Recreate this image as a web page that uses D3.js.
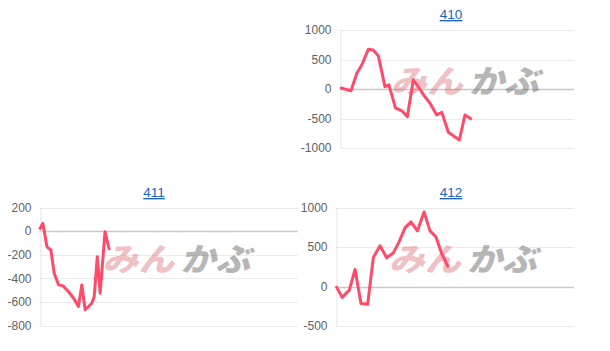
<!DOCTYPE html>
<html>
<head>
<meta charset="utf-8">
<script src="https://cdn.jsdelivr.net/npm/d3@7"></script>
<style>
  body { margin: 0; background: #fff; }
  svg { display: block; font-family: "Liberation Sans", Arial, sans-serif; }
</style>
</head>
<body>
<div id="chart"></div>
<script>
// chart titles
var titles = ["410", "411", "412"];

// x positions are % of the period shown, y is the value
var x410 = [0, 4.7, 7.2, 9.3, 12.1, 14.2, 16.4, 19.2, 20.9, 23.7, 26.4, 28.8, 31.3, 33.8, 36.1, 38.5, 41.3, 43.5, 46.3, 51, 53.4, 56.3];
var y410 = [20, -30, 266, 407, 672, 661, 560, 40, 70, -320, -370, -470, 152, 20, -120, -242, -440, -395, -734, -864, -440, -513];

var x411 = [0, 1.3, 2.9, 4.4, 5.7, 7.4, 9.1, 11.2, 13.2, 15.1, 16.4, 17.7, 20.3, 21.2, 22.4, 23.5, 25.4, 27.1];
var y411 = [14, 65, -133, -160, -357, -456, -464, -512, -568, -639, -456, -667, -611, -555, -217, -526, -6, -160];

var x412 = [0, 2.6, 5.6, 8, 10.5, 13.3, 15.7, 18.5, 21.3, 24.1, 26.5, 29, 31.5, 34.2, 37, 39.5, 42, 44.4, 47.2];
var y412 = [5, -138, -46, 216, -214, -226, 368, 515, 363, 426, 565, 742, 818, 704, 944, 704, 628, 418, 241];

var ticks410 = [-1000, -500, 0, 500, 1000];
var ticks411 = [-800, -600, -400, -200, 0, 200];
var ticks412 = [-500, 0, 500, 1000];

var width = 610, height = 351;
var svg = d3.select("#chart").append("svg")
    .attr("width", width)
    .attr("height", height);

var panels = [
    {title: titles[0], xs: x410, ys: y410, ticks: ticks410, left: 340, right: 574, top: 30, bottom: 148, titleX: 451, titleY: 19},
    {title: titles[1], xs: x411, ys: y411, ticks: ticks411, left: 39.5, right: 297.5, top: 207.5, bottom: 325.5, titleX: 154, titleY: 197},
    {title: titles[2], xs: x412, ys: y412, ticks: ticks412, left: 336, right: 574, top: 207.5, bottom: 326, titleX: 451, titleY: 197}
];

panels.forEach(function(p) {
    var g = svg.append("g");
    var x = d3.scaleLinear().domain([0, 100]).range([p.left, p.right]);
    var y = d3.scaleLinear().domain(d3.extent(p.ticks)).range([p.bottom, p.top]);

    g.append("text")
        .attr("x", p.titleX)
        .attr("y", p.titleY)
        .attr("text-anchor", "middle")
        .attr("font-size", 13.5)
        .attr("fill", "#1a63c0")
        .style("text-decoration", "underline")
        .text(p.title);

    // grid lines
    g.selectAll(".grid")
        .data(p.ticks)
        .enter().append("line")
        .attr("x1", p.left)
        .attr("x2", p.right)
        .attr("y1", function(d) { return Math.round(y(d)) + 0.5; })
        .attr("y2", function(d) { return Math.round(y(d)) + 0.5; })
        .attr("stroke", function(d) { return d == 0 ? "#c8c8c8" : "#ebebeb"; })
        .attr("stroke-width", function(d) { return d == 0 ? 1.5 : 1; });

    var yAxis = d3.axisLeft(y).tickValues(p.ticks).tickSize(0).tickPadding(9)
        .tickFormat(function(d) { return String(d); });
    var ax = g.append("g")
        .attr("transform", "translate(" + (Math.round(p.left) + 0.5) + ",0)")
        .call(yAxis);
    ax.select(".domain").attr("stroke", "#e4e4e4");
    ax.selectAll("text")
        .attr("font-size", 12)
        .attr("fill", "#5f5f5f")
        .attr("font-family", "Liberation Sans, Arial, sans-serif");

    // watermark
    var cx = (p.left + p.right) / 2 + 8, cy = (p.top + p.bottom) / 2 + 4;
    var wm = g.append("g")
        .attr("transform", "translate(" + cx + "," + cy + ") skewX(-14)");
    wm.append("text")
        .attr("x", -2)
        .attr("y", 0)
        .attr("text-anchor", "end")
        .attr("font-family", "Noto Sans CJK JP")
        .attr("font-weight", 900)
        .attr("font-size", 32)
        .attr("textLength", 72)
        .attr("lengthAdjust", "spacingAndGlyphs")
        .attr("fill", "rgba(215,90,100,0.38)")
        .text("みん");
    wm.append("text")
        .attr("x", 4)
        .attr("y", 0)
        .attr("font-family", "Noto Sans CJK JP")
        .attr("font-weight", 900)
        .attr("font-size", 32)
        .attr("textLength", 70)
        .attr("lengthAdjust", "spacingAndGlyphs")
        .attr("fill", "rgba(110,110,110,0.5)")
        .text("かぶ");

    var line = d3.line()
        .x(function(d, i) { return x(p.xs[i]); })
        .y(function(d) { return y(d); });

    g.append("path")
        .datum(p.ys)
        .attr("fill", "none")
        .attr("stroke", "#ff4a6a")
        .attr("stroke-width", 3)
        .attr("stroke-linejoin", "round")
        .attr("d", line);
});
</script>
</body>
</html>
